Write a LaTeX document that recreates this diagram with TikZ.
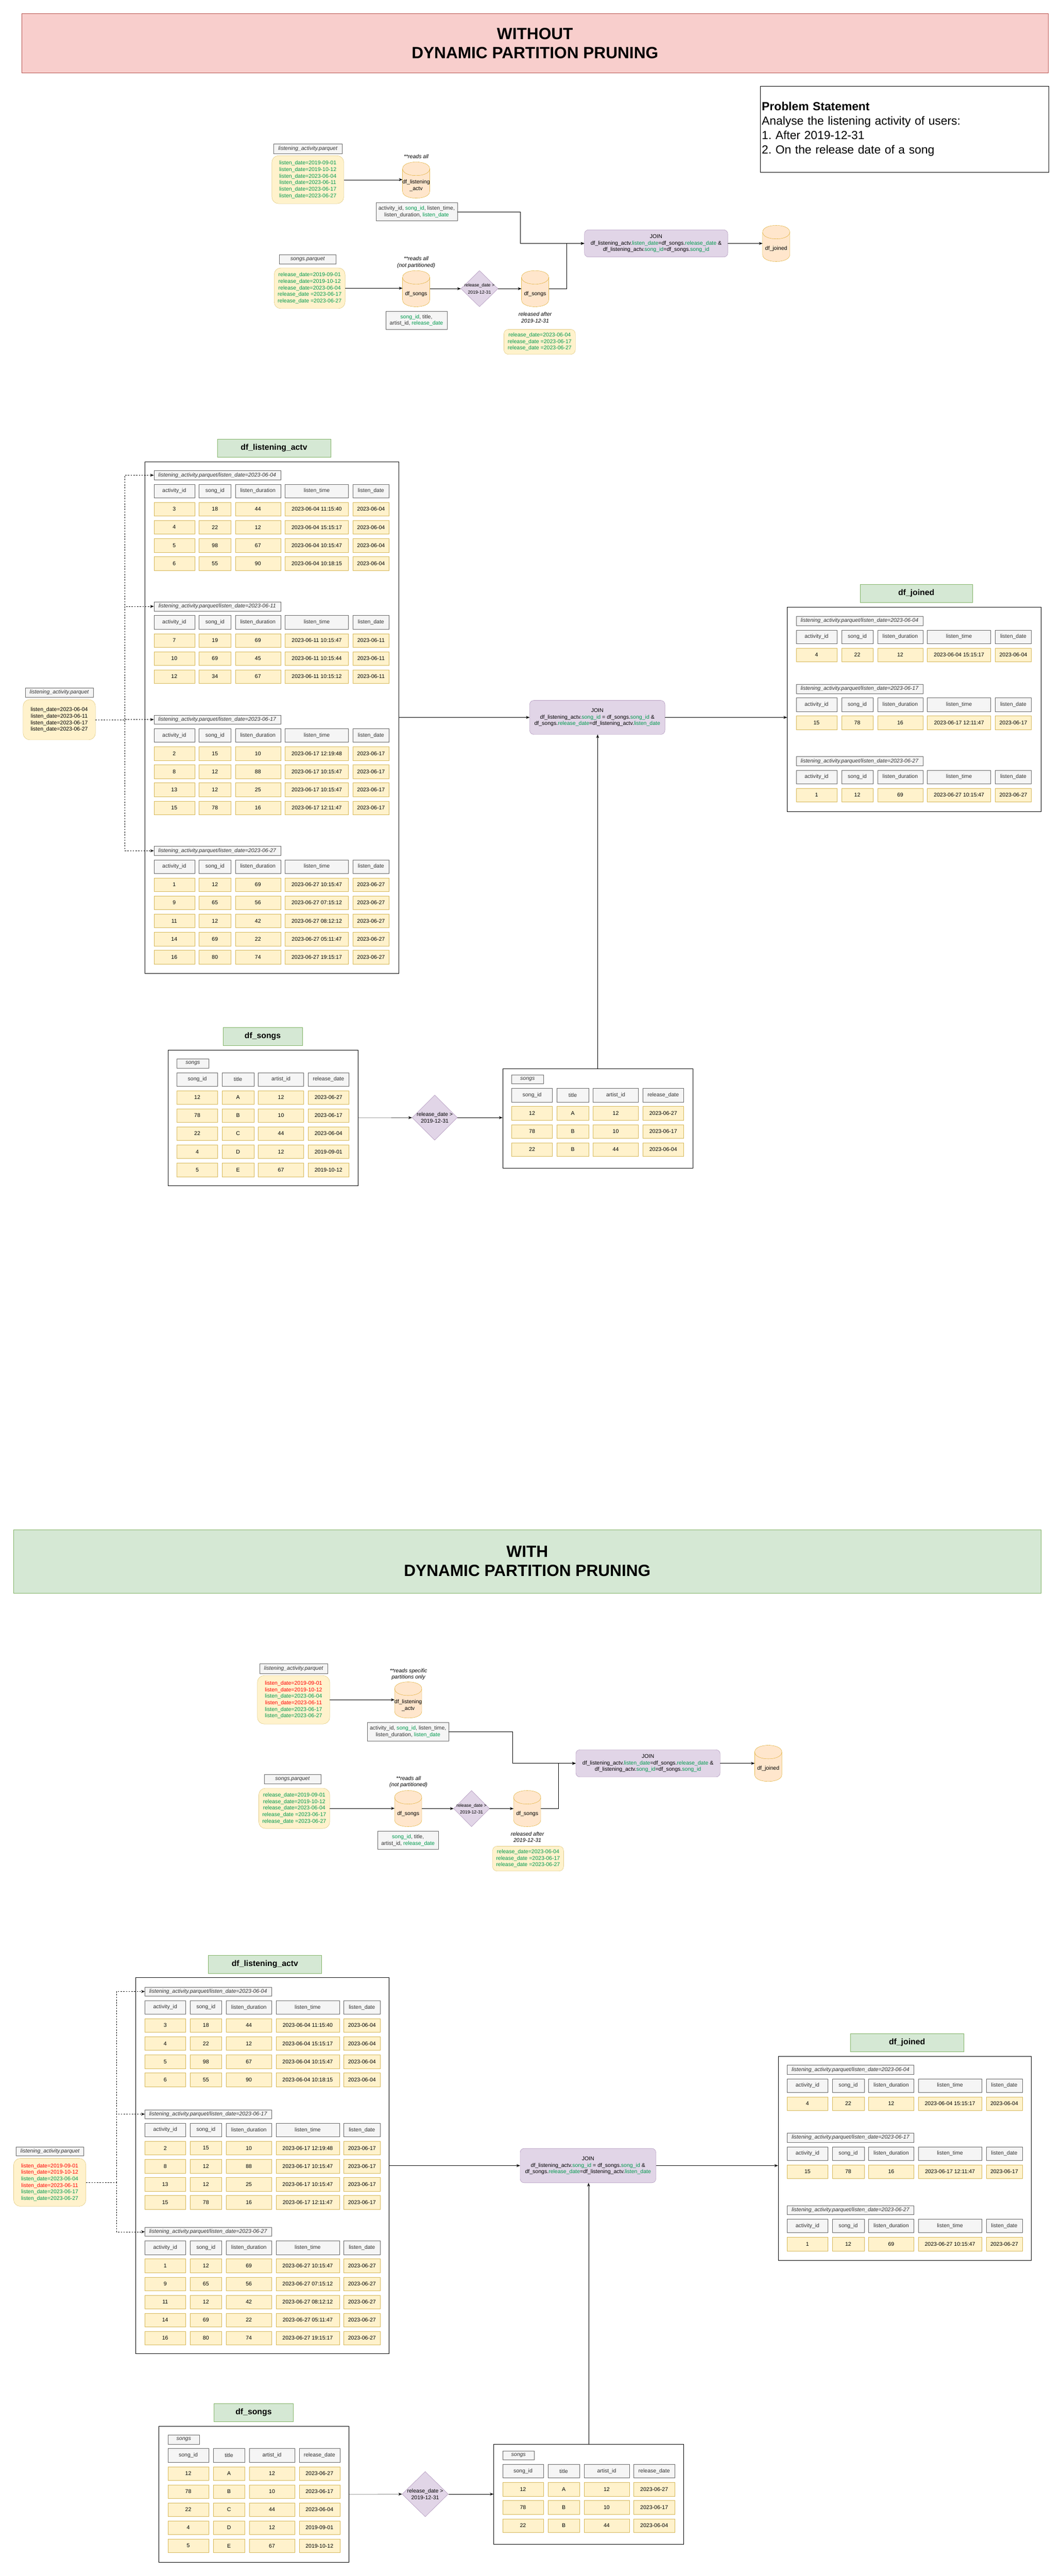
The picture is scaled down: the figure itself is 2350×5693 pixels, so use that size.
\documentclass[tikz,border=0pt]{standalone}
\usepackage{fontspec}
\setmainfont{Liberation Sans}
\usepackage{tikz}
\usetikzlibrary{calc, positioning, arrows.meta, shapes.geometric}
\frenchspacing
\definecolor{dppgreen}{HTML}{00994D}
\definecolor{dppred}{HTML}{FF0000}
\definecolor{graybg}{HTML}{F5F5F5}
\definecolor{grayline}{HTML}{666666}
\definecolor{graytext}{HTML}{333333}
\definecolor{cellbg}{HTML}{FFF2CC}
\definecolor{cellline}{HTML}{D6B656}
\definecolor{titlebg}{HTML}{D5E8D4}
\definecolor{titleline}{HTML}{82B366}
\definecolor{pinkbg}{HTML}{F8CECC}
\definecolor{pinkline}{HTML}{B85450}
\definecolor{joinbg}{HTML}{E1D5E7}
\definecolor{joinline}{HTML}{9673A6}
\definecolor{dbbg}{HTML}{FFE6CC}
\definecolor{dbline}{HTML}{D79B00}
\newcommand{\grn}[1]{\textcolor{dppgreen}{#1}}
\newcommand{\redt}[1]{\textcolor{dppred}{#1}}
\newcommand{\fs}[2]{\fontsize{#1}{#2}\selectfont}
\tikzset{
	line width = 1pt,
	>={Stealth[length=8pt,width=6pt]},
	font = \fs{12}{14.4},
	banner/.style={
		anchor=north west,
		align=center,
		font=\bfseries\fs{36}{43},
		inner sep=0
	},
	title/.style={
		draw=titleline,
		fill=titlebg,
		anchor=north west,
		font=\bfseries\fs{18}{21.6},
		minimum height=40,
		inner sep=0
	},
	pathlabel/.style={
		draw=grayline,
		fill=graybg,
		text=graytext,
		font=\itshape\fs{12}{14.4},
		minimum width=280,
		minimum height=20,
		inner sep=0,
		anchor=north west
	},
	colhead/.style={
		draw=grayline,
		fill=graybg,
		text=graytext,
		minimum height=30,
		inner sep=0,
		anchor=north west
	},
	cell/.style={
		draw=cellline,
		fill=cellbg,
		minimum height=30,
		inner sep=0,
		anchor=north west
	},
	frame/.style={
		draw=black,
		anchor=north west,
		inner sep=0
	},
	filename/.style={
		draw=grayline,
		fill=graybg,
		text=graytext,
		font=\itshape\fs{12}{14.4},
		inner sep=0
	},
	parts/.style={
		draw=cellline,
		fill=cellbg,
		rounded corners=15pt,
		align=center,
		inner sep=0
	},
	colsbox/.style={
		draw=grayline,
		fill=graybg,
		text=graytext,
		align=center,
		inner sep=0
	},
	dbbody/.style={minimum width=60, minimum height=80, inner sep=0},
	dbshape/.style={draw=dbline, fill=dbbg},
	dbtext/.style={align=center, inner sep=0},
	filt/.style={diamond, draw=joinline, fill=joinbg, inner sep=0},
	filttext/.style={align=center, font=\fs{10}{15}, inner sep=0},
	joinbox/.style={
		draw=joinline,
		fill=joinbg,
		rounded corners=9pt,
		align=center,
		inner sep=0
	},
	note/.style={align=center, font=\itshape\fs{12}{14.4}, inner sep=0},
	flow/.style={->},
	feed/.style={->, dash pattern=on 3pt off 3pt}
}
\newcommand{\actvrow}[9]{%
	\node[#4, minimum width=90] at (#2,#3) (#1a) {#5};
	\node[#4, minimum width=70] at (#2+100,#3) (#1b) {#6};
	\node[#4, minimum width=100] at (#2+180,#3) (#1c) {#7};
	\node[#4, minimum width=140] at (#2+290,#3) (#1d) {#8};
	\node[#4, minimum width=80] at (#2+440,#3) (#1e) {#9};
}
\newcommand{\actvpart}[5]{%
	\node[pathlabel] at (#2,#3) (#1) {listening\_activity.parquet/listen\_date=#4};
	\actvrow{#1h}{#2}{#3+30}{colhead}{activity\_id}{song\_id}{listen\_duration}{listen\_time}{listen\_date}
	\foreach \va/\vb/\vc/\vd/\ve [count=\ri] in {#5}{
		\actvrow{#1r\ri}{#2}{#3+30+40*\ri}{cell}{\va}{\vb}{\vc}{\vd}{\ve}
	}
}
\newcommand{\songrow}[8]{%
	\node[#4, minimum width=90] at (#2,#3) (#1a) {#5};
	\node[#4, minimum width=70] at (#2+100,#3) (#1b) {#6};
	\node[#4, minimum width=100] at (#2+180,#3) (#1c) {#7};
	\node[#4, minimum width=90] at (#2+290,#3) (#1d) {#8};
}
\newcommand{\songtable}[4]{%
	\node[pathlabel, minimum width=70] at (#2,#3) (#1) {songs};
	\songrow{#1h}{#2}{#3+30}{colhead}{song\_id}{title}{artist\_id}{release\_date}
	\foreach \va/\vb/\vc/\vd [count=\ri] in {#4}{
		\songrow{#1r\ri}{#2}{#3+30+40*\ri}{cell}{\va}{\vb}{\vc}{\vd}
	}
}
% cylinder: name, centre x, centre y, text
\newcommand{\dbcyl}[4]{%
	\node[dbbody] at (#2,#3) (#1) {};
	\filldraw[dbshape] (#2-30,#3-25) -- (#2-30,#3+25) .. controls (#2-30,#3+45) and (#2+30,#3+45) .. (#2+30,#3+25) -- (#2+30,#3-25) .. controls (#2+30,#3-45) and (#2-30,#3-45) .. cycle;
	\draw[dbline] (#2-30,#3-25) .. controls (#2-30,#3-5) and (#2+30,#3-5) .. (#2+30,#3-25);
	\node[dbtext] at (#2,#3+12) (#1t) {#4};
}

\begin{document}
\begin{tikzpicture}[x=1pt, y=-1pt]
		\useasboundingbox (0,0) rectangle (2350,5693);

		% without dynamic partition pruning
		\node[banner, draw=pinkline, fill=pinkbg, minimum width=2269, minimum height=131] at (48,30) (hdA) {WITHOUT\\DYNAMIC PARTITION PRUNING};
		\node[draw=black, anchor=north west, minimum width=637, minimum height=190, text width=631, inner xsep=3, inner ysep=0, align=left, font=\fs{26}{32}] at (1681,190) (prob) {\textbf{Problem Statement}\\Analyse the listening activity of users:\\1. After 2019-12-31\\2. On the release date of a song};

		\node[filename, minimum width=151, minimum height=21] at (680.5,328.5) (lpA) {listening\_activity.parquet};
		\node[parts, text=dppgreen, minimum width=159, minimum height=106] at (680.5,397) (lyA) {listen\_date=2019-09-01\\listen\_date=2019-10-12\\listen\_date=2023-06-04\\listen\_date=2023-06-11\\listen\_date=2023-06-17\\listen\_date=2023-06-27};
		\node[note] at (920,346) (rdA1) {**reads all};
		\dbcyl{dbAl}{920}{398}{df\_listening\\\_actv}
		\node[colsbox, minimum width=180, minimum height=40] at (921,468) (colsA) {activity\_id, \grn{song\_id}, listen\_time,\\listen\_duration, \grn{listen\_date}};
		\node[filename, minimum width=126, minimum height=20] at (680,573) (spA) {songs.parquet};
		\node[parts, text=dppgreen, minimum width=157, minimum height=90] at (684.5,637) (syA) {release\_date=2019-09-01\\release\_date=2019-10-12\\release\_date=2023-06-04\\release\_date =2023-06-17\\release\_date =2023-06-27};
		\node[note] at (920,580) (rdA2) {**reads all\\(not partitioned)};
		\dbcyl{dbAs}{920}{638}{df\_songs}
		\node[filt, minimum width=82, minimum height=80] at (1060,638) (fA) {};
		\node[filttext] at (fA.center) (fAt) {release\_date >\\2019-12-31};
		\dbcyl{dbAf}{1183}{638}{df\_songs}
		\node[colsbox, minimum width=135, minimum height=40] at (920.5,708) (sidA) {\grn{song\_id}, title,\\artist\_id, \grn{release\_date}};
		\node[note] at (1183,702) (relA) {released after\\2019-12-31};
		\node[parts, text=dppgreen, rounded corners=10pt, minimum width=158, minimum height=55] at (1193,755.5) (ryA) {release\_date=2023-06-04\\release\_date =2023-06-17\\release\_date =2023-06-27};
		\node[joinbox, minimum width=317, minimum height=60] at (1450.5,538) (joinA) {JOIN\\df\_listening\_actv.\grn{listen\_date}=df\_songs.\grn{release\_date} \&\\df\_listening\_actv.\grn{song\_id}=df\_songs.\grn{song\_id}};
		\dbcyl{dbAj}{1716}{538}{df\_joined}
		\coordinate (bendA1) at (1150,468);
		\coordinate (bendA2) at (1253,638);
		\draw[flow] (lyA.east) -- (lyA.east -| dbAl.west);
		\draw[flow] (colsA.east) -- (bendA1) |- (joinA.west);
		\draw[flow] (syA.east) -- (syA.east -| dbAs.west);
		\draw[flow] (dbAs.east) -- (fA.west);
		\draw[flow] (fA.east) -- (dbAf.west);
		\draw[flow] (dbAf.east) -- (bendA2) |- (joinA.west);
		\draw[flow] (joinA.east) -- (dbAj.west);

		\node[title, minimum width=251] at (480,970) (tlA) {df\_listening\_actv};
		\node[frame, minimum width=561, minimum height=1131] at (320,1020) (lsA) {};
		\actvpart{pA1}{340}{1040}{2023-06-04}{3/18/44/2023-06-04 11:15:40/2023-06-04, 4/22/12/2023-06-04 15:15:17/2023-06-04, 5/98/67/2023-06-04 10:15:47/2023-06-04, 6/55/90/2023-06-04 10:18:15/2023-06-04}
		\actvpart{pA2}{340}{1330}{2023-06-11}{7/19/69/2023-06-11 10:15:47/2023-06-11, 10/69/45/2023-06-11 10:15:44/2023-06-11, 12/34/67/2023-06-11 10:15:12/2023-06-11}
		\actvpart{pA3}{340}{1580}{2023-06-17}{2/15/10/2023-06-17 12:19:48/2023-06-17, 8/12/88/2023-06-17 10:15:47/2023-06-17, 13/12/25/2023-06-17 10:15:47/2023-06-17, 15/78/16/2023-06-17 12:11:47/2023-06-17}
		\actvpart{pA4}{340}{1870}{2023-06-27}{1/12/69/2023-06-27 10:15:47/2023-06-27, 9/65/56/2023-06-27 07:15:12/2023-06-27, 11/12/42/2023-06-27 08:12:12/2023-06-27, 14/69/22/2023-06-27 05:11:47/2023-06-27, 16/80/74/2023-06-27 19:15:17/2023-06-27}
		\node[filename, minimum width=150, minimum height=21] at (131,1530.5) (lpA2) {listening\_activity.parquet};
		\node[parts, minimum width=160, minimum height=89] at (131,1590.5) (lyA2) {listen\_date=2023-06-04\\listen\_date=2023-06-11\\listen\_date=2023-06-17\\listen\_date=2023-06-27};
		\coordinate (trunkA) at (276,1590.5);
		\foreach \p in {pA1,pA2,pA3,pA4}
			\draw[feed] (lyA2.east) -- (trunkA) |- (\p.west);

		\node[title, minimum width=249] at (1901,1291) (tjA) {df\_joined};
		\node[frame, minimum width=561, minimum height=452] at (1740,1341) (jnA) {};
		\actvpart{qA1}{1760}{1362}{2023-06-04}{4/22/12/2023-06-04 15:15:17/2023-06-04}
		\actvpart{qA2}{1760}{1512}{2023-06-17}{15/78/16/2023-06-17 12:11:47/2023-06-17}
		\actvpart{qA3}{1760}{1672}{2023-06-27}{1/12/69/2023-06-27 10:15:47/2023-06-27}
		\node[joinbox, minimum width=299, minimum height=75] at (1320.5,1585.5) (joinA2) {JOIN\\df\_listening\_actv.\grn{song\_id} = df\_songs.\grn{song\_id} \&\\df\_songs.\grn{release\_date}=df\_listening\_actv.\grn{listen\_date}};

		\node[title, minimum width=175] at (493,2270) (tsA) {df\_songs};
		\node[frame, minimum width=420, minimum height=300] at (371,2320) (sgA) {};
		\songtable{sA}{391}{2340}{12/A/12/2023-06-27, 78/B/10/2023-06-17, 22/C/44/2023-06-04, 4/D/12/2019-09-01, 5/E/67/2019-10-12}
		\node[filt, minimum width=100, minimum height=100] at (961,2470) (fA2) {};
		\node[filttext, font=\fs{12}{15}] at (fA2.center) (fA2t) {release\_date >\\2019-12-31};
		\node[frame, minimum width=420, minimum height=220] at (1111,2361) (sgA2) {};
		\songtable{tA}{1131}{2375}{12/A/12/2023-06-27, 78/B/10/2023-06-17, 22/B/44/2023-06-04}

		\draw[flow] (joinA2.west -| lsA.east) -- (joinA2.west);
		\draw[flow] (joinA2.east) -- (joinA2.east -| jnA.west);
		\draw[flow] (sgA.east) -- (fA2.west);
		\draw[flow] (fA2.east) -- (fA2.east -| sgA2.west);
		\draw[flow] (sgA2.north) -- (sgA2.north |- joinA2.south);

		% with dynamic partition pruning
		\node[banner, draw=titleline, fill=titlebg, minimum width=2271, minimum height=140] at (30,3380) (hdB) {WITH\\DYNAMIC PARTITION PRUNING};

		\node[filename, minimum width=150, minimum height=21] at (649,3687.5) (lpB) {listening\_activity.parquet};
		\node[parts, minimum width=160, minimum height=107] at (649,3756.5) (lyB) {\redt{listen\_date=2019-09-01}\\\redt{listen\_date=2019-10-12}\\\grn{listen\_date=2023-06-04}\\\redt{listen\_date=2023-06-11}\\\grn{listen\_date=2023-06-17}\\\grn{listen\_date=2023-06-27}};
		\node[note] at (903,3700) (rdB1) {**reads specific\\partitions only};
		\dbcyl{dbBl}{902.5}{3757}{df\_listening\\\_actv}
		\node[colsbox, minimum width=180, minimum height=40] at (902,3827) (colsB) {activity\_id, \grn{song\_id}, listen\_time,\\listen\_duration, \grn{listen\_date}};
		\node[filename, minimum width=125, minimum height=20] at (646.5,3932) (spB) {songs.parquet};
		\node[parts, text=dppgreen, minimum width=157, minimum height=89] at (650.5,3996.5) (syB) {release\_date=2019-09-01\\release\_date=2019-10-12\\release\_date=2023-06-04\\release\_date =2023-06-17\\release\_date =2023-06-27};
		\node[note] at (903,3938) (rdB2) {**reads all\\(not partitioned)};
		\dbcyl{dbBs}{902.5}{3997}{df\_songs}
		\node[filt, minimum width=79, minimum height=80] at (1042.5,3997) (fB) {};
		\node[filttext] at (fB.center) (fBt) {release\_date >\\2019-12-31};
		\dbcyl{dbBf}{1165.5}{3997}{df\_songs}
		\node[colsbox, minimum width=134, minimum height=40] at (902,4067) (sidB) {\grn{song\_id}, title,\\artist\_id, \grn{release\_date}};
		\node[note] at (1166,4060) (relB) {released after\\2019-12-31};
		\node[parts, text=dppgreen, rounded corners=10pt, minimum width=157, minimum height=55] at (1167.5,4107.5) (ryB) {release\_date=2023-06-04\\release\_date =2023-06-17\\release\_date =2023-06-27};
		\node[joinbox, minimum width=319, minimum height=60] at (1432.5,3897) (joinB) {JOIN\\df\_listening\_actv.\grn{listen\_date}=df\_songs.\grn{release\_date} \&\\df\_listening\_actv.\grn{song\_id}=df\_songs.\grn{song\_id}};
		\dbcyl{dbBj}{1698.5}{3897}{df\_joined}
		\coordinate (bendB1) at (1133,3827);
		\coordinate (bendB2) at (1234,3997);
		\draw[flow] (lyB.east) -- (lyB.east -| dbBl.west);
		\draw[flow] (colsB.east) -- (bendB1) |- (joinB.west);
		\draw[flow] (syB.east) -- (syB.east -| dbBs.west);
		\draw[flow] (dbBs.east) -- (fB.west);
		\draw[flow] (fB.east) -- (dbBf.west);
		\draw[flow] (dbBf.east) -- (bendB2) |- (joinB.west);
		\draw[flow] (joinB.east) -- (dbBj.west);

		\node[title, minimum width=251] at (460,4321) (tlB) {df\_listening\_actv};
		\node[frame, minimum width=560, minimum height=831] at (300,4370) (lsB) {};
		\actvpart{pB1}{320}{4391}{2023-06-04}{3/18/44/2023-06-04 11:15:40/2023-06-04, 4/22/12/2023-06-04 15:15:17/2023-06-04, 5/98/67/2023-06-04 10:15:47/2023-06-04, 6/55/90/2023-06-04 10:18:15/2023-06-04}
		\actvpart{pB2}{320}{4662}{2023-06-17}{2/15/10/2023-06-17 12:19:48/2023-06-17, 8/12/88/2023-06-17 10:15:47/2023-06-17, 13/12/25/2023-06-17 10:15:47/2023-06-17, 15/78/16/2023-06-17 12:11:47/2023-06-17}
		\actvpart{pB3}{320}{4922}{2023-06-27}{1/12/69/2023-06-27 10:15:47/2023-06-27, 9/65/56/2023-06-27 07:15:12/2023-06-27, 11/12/42/2023-06-27 08:12:12/2023-06-27, 14/69/22/2023-06-27 05:11:47/2023-06-27, 16/80/74/2023-06-27 19:15:17/2023-06-27}
		\node[filename, minimum width=149, minimum height=19] at (110.5,4754.5) (lpB2) {listening\_activity.parquet};
		\node[parts, minimum width=160, minimum height=106] at (110,4823) (lyB2) {\redt{listen\_date=2019-09-01}\\\redt{listen\_date=2019-10-12}\\\grn{listen\_date=2023-06-04}\\\redt{listen\_date=2023-06-11}\\\grn{listen\_date=2023-06-17}\\\grn{listen\_date=2023-06-27}};
		\coordinate (trunkB) at (257,4823);
		\foreach \p in {pB1,pB2,pB3}
			\draw[feed] (lyB2.east) -- (trunkB) |- (\p.west);

		\node[title, minimum width=250] at (1880,4494) (tjB) {df\_joined};
		\node[frame, minimum width=560, minimum height=451] at (1720,4544) (jnB) {};
		\actvpart{qB1}{1740}{4564}{2023-06-04}{4/22/12/2023-06-04 15:15:17/2023-06-04}
		\actvpart{qB2}{1740}{4714}{2023-06-17}{15/78/16/2023-06-17 12:11:47/2023-06-17}
		\actvpart{qB3}{1740}{4874}{2023-06-27}{1/12/69/2023-06-27 10:15:47/2023-06-27}
		\node[joinbox, minimum width=300, minimum height=76] at (1300,4786) (joinB2) {JOIN\\df\_listening\_actv.\grn{song\_id} = df\_songs.\grn{song\_id} \&\\df\_songs.\grn{release\_date}=df\_listening\_actv.\grn{listen\_date}};

		\node[title, minimum width=175] at (473,5311) (tsB) {df\_songs};
		\node[frame, minimum width=420, minimum height=300] at (351,5362) (sgB) {};
		\songtable{sB}{371}{5381}{12/A/12/2023-06-27, 78/B/10/2023-06-17, 22/C/44/2023-06-04, 4/D/12/2019-09-01, 5/E/67/2019-10-12}
		\node[filt, minimum width=102, minimum height=100] at (940,5512) (fB2) {};
		\node[filttext, font=\fs{12}{15}] at (fB2.center) (fB2t) {release\_date >\\2019-12-31};
		\node[frame, minimum width=420, minimum height=220] at (1091,5402) (sgB2) {};
		\songtable{tB}{1111}{5416}{12/A/12/2023-06-27, 78/B/10/2023-06-17, 22/B/44/2023-06-04}

		\draw[flow] (joinB2.west -| lsB.east) -- (joinB2.west);
		\draw[flow] (joinB2.east) -- (joinB2.east -| jnB.west);
		\draw[flow] (sgB.east) -- (fB2.west);
		\draw[flow] (fB2.east) -- (fB2.east -| sgB2.west);
		\draw[flow] (sgB2.north) -- (sgB2.north |- joinB2.south);
\end{tikzpicture}
\end{document}
